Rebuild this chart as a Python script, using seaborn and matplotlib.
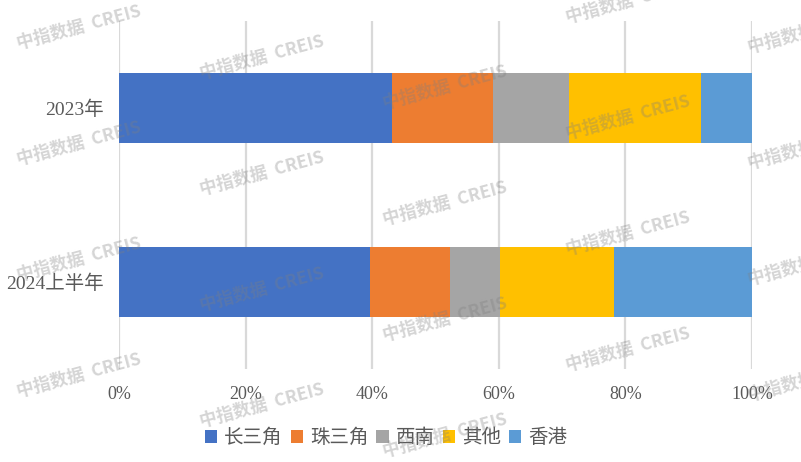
"""
各区域占比 堆积条形图
"""
import matplotlib
matplotlib.use('Agg')
from matplotlib import pyplot as plt
from matplotlib.patches import Patch
import pandas as pd
import seaborn as sns

periods = ['2023年', '2024上半年']
regions = ['长三角', '珠三角', '西南', '其他', '香港']
colors = ['#4472C4', '#ED7D31', '#A5A5A5', '#FFC000', '#5B9BD5']
share_2023 = [43.1, 16.0, 12.0, 20.9, 8.0]
share_2024h1 = [39.7, 12.6, 7.9, 18.0, 21.8]
x_ticks = [0, 20, 40, 60, 80, 100]

sns.set_style('white')
plt.rcParams['font.family'] = ['Liberation Serif', 'Noto Sans CJK SC']

df = pd.DataFrame([share_2023, share_2024h1], columns=regions, index=periods)
cum = df.cumsum(axis=1)

W, H = 801, 462
fig = plt.figure(figsize=(W / 100, H / 100), dpi=100)
ax = fig.add_axes([119 / W, 1 - 369 / H, (752 - 119) / W, (369 - 21) / H])

# 累计值从大到小叠画，形成堆积效果
for region, color in reversed(list(zip(regions, colors))):
    sns.barplot(x=cum[region].values, y=periods, orient='h', color=color,
                width=0.4, saturation=1, errorbar=None, linewidth=0, ax=ax)

ax.set_xlim(0, 100)
ax.set_ylim(1.5, -0.5)
ax.set_xticks(x_ticks)
ax.set_xticklabels([f'{v}%' for v in x_ticks])
ax.set_xlabel('')
ax.set_ylabel('')
ax.xaxis.grid(True, color='#D9D9D9', linewidth=1.6)
ax.yaxis.grid(False)
ax.set_axisbelow(True)
for s in ax.spines.values():
    s.set_visible(False)
ax.tick_params(axis='both', length=0, colors='#595959')
ax.tick_params(axis='x', pad=12, labelsize=13)
ax.tick_params(axis='y', pad=11, labelsize=14)
for lbl in ax.get_xticklabels():
    lbl.set_clip_on(False)

handles = [Patch(facecolor=c, edgecolor='none') for c in colors]
fig.legend(handles, regions, loc='center', bbox_to_anchor=(386 / W, 1 - 438 / H),
           ncol=5, frameon=False, handlelength=0.65, handleheight=0.65,
           handletextpad=0.35, columnspacing=0.4, fontsize=14, labelcolor='#595959')

# 水印
for col, x0 in enumerate([79, 262, 445, 628, 810]):
    y0 = 28 + 30 * col
    for k in range(-1, 5):
        y = y0 + 116 * k
        if y < -10 or y > 450:
            continue
        fig.text(x0 / W, 1 - y / H, '中指数据  CREIS', family=['Noto Sans CJK SC'],
                 weight='bold', fontsize=12.5, color='#7f7f7f', alpha=0.33,
                 rotation=15, ha='center', va='center', rotation_mode='anchor', zorder=10)

fig.savefig('out.png', dpi=100)
